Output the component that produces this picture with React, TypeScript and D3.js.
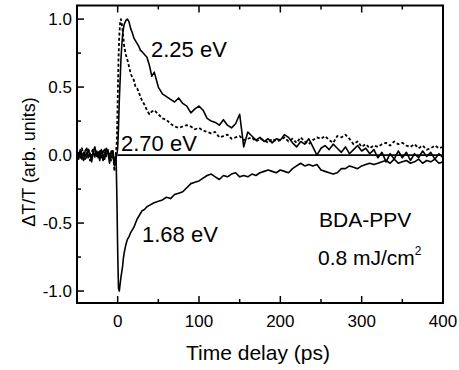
import React from "react";
import * as d3 from "d3";

const times = [
  -50, -48, -46, -44, -42, -40, -38, -36, -34, -32, -30, -28, -26, -24, -22, -20, -18, -16, -14, -12, -10, -8, -6, -4, -2,
  -1, 0, 1, 2, 3, 4, 5, 6, 7, 8, 10, 12, 14, 16, 18, 20, 22, 24, 26, 28, 30, 33, 36, 39, 42, 45,
  50, 55, 60, 65, 70, 75, 80, 85, 90, 95,
  100, 105, 110, 115, 120, 125, 130, 135, 140, 145,
  150, 155, 160, 165, 170, 175, 180, 185, 190, 195,
  200, 205, 210, 215, 220, 225, 230, 235, 240, 245,
  250, 255, 260, 265, 270, 275, 280, 285, 290, 295,
  300, 305, 310, 315, 320, 325, 330, 335, 340, 345,
  350, 355, 360, 365, 370, 375, 380, 385, 390, 395,
  400,
];

const ev225 = [
  0.02, -0.03, 0.04, 0.0, -0.04, 0.03, 0.05, -0.02, 0.01, -0.05, 0.03, 0.06, -0.01, 0.02, -0.04, 0.04, 0.0, -0.03, 0.05, 0.02, -0.06, 0.03, 0.01, -0.08, -0.02,
  0.0, 0.05, 0.2, 0.4, 0.55, 0.7, 0.8, 0.88, 0.93, 0.96, 0.99, 1.0, 0.98, 0.93, 0.9, 0.86, 0.84, 0.82, 0.8, 0.77, 0.76, 0.74, 0.72, 0.66, 0.58, 0.61,
  0.5, 0.45, 0.43, 0.41, 0.39, 0.42, 0.38, 0.36, 0.31, 0.34,
  0.36, 0.33, 0.27, 0.25, 0.24, 0.22, 0.26, 0.22, 0.2, 0.23,
  0.3, 0.06, 0.17, 0.14, 0.11, 0.13, 0.1, 0.12, 0.09, 0.12,
  0.11, 0.15, 0.13, 0.09, 0.06, 0.1, 0.08, 0.12, 0.06, 0.0,
  0.05, 0.07, 0.04, 0.08, 0.05, 0.02, 0.06, 0.01, 0.04, 0.07,
  0.03, 0.05, 0.01, 0.04, -0.02, 0.02, -0.05, 0.01, -0.03, 0.03,
  -0.02, 0.02, -0.04, 0.01, -0.02, 0.03, -0.01, 0.02, -0.03, 0.01,
  -0.02,
];

const ev270 = [
  0.0, 0.03, -0.02, 0.05, 0.01, -0.03, 0.02, 0.04, -0.04, 0.02, 0.05, -0.02, 0.03, 0.0, 0.04, -0.03, 0.02, 0.05, -0.01, 0.03, 0.0, -0.04, 0.04, -0.12, 0.03,
  0.1, 0.4, 0.7, 0.88, 0.97, 1.0, 0.97, 0.92, 0.86, 0.8, 0.74, 0.7, 0.65, 0.6, 0.57, 0.55, 0.5, 0.49, 0.46, 0.43, 0.4, 0.37, 0.33, 0.3, 0.32, 0.33,
  0.3, 0.27, 0.26, 0.23, 0.21, 0.2, 0.21, 0.22, 0.21, 0.19,
  0.2, 0.18, 0.17, 0.16, 0.17, 0.13, 0.14, 0.15, 0.12, 0.13,
  0.14, 0.11, 0.12, 0.13, 0.1, 0.12, 0.11, 0.09, 0.12, 0.1,
  0.11, 0.13, 0.1, 0.12, 0.09, 0.13, 0.1, 0.08, 0.11, 0.13,
  0.12, 0.14, 0.11, 0.09, 0.14, 0.13, 0.15, 0.12, 0.08, 0.1,
  0.06, 0.08, 0.05, 0.07, 0.06, 0.08, 0.09, 0.07, 0.1, 0.08,
  0.09, 0.07, 0.06, 0.08, 0.05, 0.07, 0.04, 0.05, 0.07, 0.05,
  0.06,
];

const ev168 = [
  -0.02, 0.01, 0.03, -0.03, 0.02, 0.0, -0.02, 0.04, 0.01, -0.03, 0.02, 0.0, 0.03, -0.02, 0.01, 0.03, -0.04, 0.02, 0.0, 0.04, -0.02, 0.01, 0.03, -0.05, 0.0,
  -0.3, -0.7, -0.98, -1.0, -0.95, -0.9, -0.86, -0.82, -0.76, -0.72, -0.66, -0.62, -0.6, -0.57, -0.55, -0.53, -0.5, -0.47, -0.45, -0.43, -0.41, -0.4, -0.38, -0.37, -0.36, -0.35,
  -0.34, -0.33, -0.31, -0.32, -0.29, -0.28, -0.27, -0.24, -0.21, -0.2,
  -0.19, -0.17, -0.15, -0.14, -0.16, -0.18, -0.15, -0.16, -0.14, -0.13,
  -0.16, -0.15, -0.16, -0.14, -0.15, -0.13, -0.12, -0.11, -0.12, -0.13,
  -0.11, -0.12, -0.13, -0.1, -0.08, -0.06, -0.08, -0.07, -0.08, -0.07,
  -0.11, -0.12, -0.13, -0.14, -0.13, -0.1, -0.1, -0.08, -0.09, -0.1,
  -0.08, -0.07, -0.06, -0.07, -0.06, -0.05, -0.04, -0.06, -0.03, -0.06,
  -0.05, -0.04, -0.06, -0.05, -0.03, -0.06, -0.04, -0.05, -0.03, -0.06,
  -0.05,
];

const xTicks = [0, 100, 200, 300, 400];
const xMinorTicks = [50, 150, 250, 350];
const yTicks = [-1.0, -0.5, 0.0, 0.5, 1.0];
const yMinorTicks = [-0.75, -0.25, 0.25, 0.75];

const FONT = "'Liberation Sans', Arial, Helvetica, sans-serif";

export default function App() {
  const W = 459;
  const H = 370;
  const left = 77;
  const right = 443;
  const top = 5.5;
  const bottom = 303;

  const x = d3.scaleLinear().domain([-50, 400]).range([left, right]);
  const y = d3.scaleLinear().domain([-1.088, 1.1]).range([bottom, top]);

  const line = d3
    .line<number>()
    .x((_, i) => x(times[i]))
    .y((v) => y(v));

  return (
    <svg
      width={W}
      height={H}
      style={{ position: "absolute", left: 0, top: 0, background: "#fff" }}
      fontFamily={FONT}
    >
      <rect x={0} y={0} width={W} height={H} fill="#fff" />
      <defs>
        <clipPath id="plot">
          <rect x={left} y={top} width={right - left} height={bottom - top} />
        </clipPath>
      </defs>
      <g clipPath="url(#plot)" fill="none" stroke="#000" strokeLinejoin="round">
        <line x1={x(0)} x2={x(400)} y1={y(0)} y2={y(0)} strokeWidth={1.8} />
        <path d={line(ev270) || ""} strokeWidth={1.8} strokeDasharray="3,2.2" />
        <path d={line(ev225) || ""} strokeWidth={1.6} />
        <path d={line(ev168) || ""} strokeWidth={1.6} />
      </g>

      {/* frame */}
      <rect x={left} y={top} width={right - left} height={bottom - top} fill="none" stroke="#000" strokeWidth={2} />

      {/* x ticks bottom & top */}
      {xTicks.map((t) => (
        <g key={"xt" + t}>
          <line x1={x(t)} x2={x(t)} y1={bottom} y2={bottom - 7} stroke="#000" strokeWidth={1.5} />
          <line x1={x(t)} x2={x(t)} y1={top} y2={top + 7} stroke="#000" strokeWidth={1.5} />
          <text x={x(t)} y={327} fontSize={17} textAnchor="middle">
            {t}
          </text>
        </g>
      ))}
      {xMinorTicks.map((t) => (
        <g key={"xm" + t}>
          <line x1={x(t)} x2={x(t)} y1={bottom} y2={bottom - 4} stroke="#000" strokeWidth={1.5} />
          <line x1={x(t)} x2={x(t)} y1={top} y2={top + 4} stroke="#000" strokeWidth={1.5} />
        </g>
      ))}

      {/* y ticks */}
      {yTicks.map((v) => (
        <g key={"yt" + v}>
          <line x1={left} x2={left + 7} y1={y(v)} y2={y(v)} stroke="#000" strokeWidth={1.5} />
          <text x={72} y={y(v)} dy="0.36em" fontSize={17} textAnchor="end">
            {v.toFixed(1)}
          </text>
        </g>
      ))}
      {yMinorTicks.map((v) => (
        <line key={"ym" + v} x1={left} x2={left + 4} y1={y(v)} y2={y(v)} stroke="#000" strokeWidth={1.5} />
      ))}

      {/* axis titles */}
      <text x={258} y={360} fontSize={21} textAnchor="middle">
        Time delay (ps)
      </text>
      <text transform="translate(35,162) rotate(-90)" fontSize={18} textAnchor="middle">
        ΔT/T (arb. units)
      </text>

      {/* series labels */}
      <text x={151} y={57} fontSize={22}>2.25 eV</text>
      <text x={121} y={151} fontSize={22}>2.70 eV</text>
      <text x={142} y={242} fontSize={22}>1.68 eV</text>
      <text x={319} y={227} fontSize={21}>BDA-PPV</text>
      <text x={318} y={265} fontSize={21}>
        0.8 mJ/cm
        <tspan fontSize={12} dy={-10}>2</tspan>
      </text>
    </svg>
  );
}
